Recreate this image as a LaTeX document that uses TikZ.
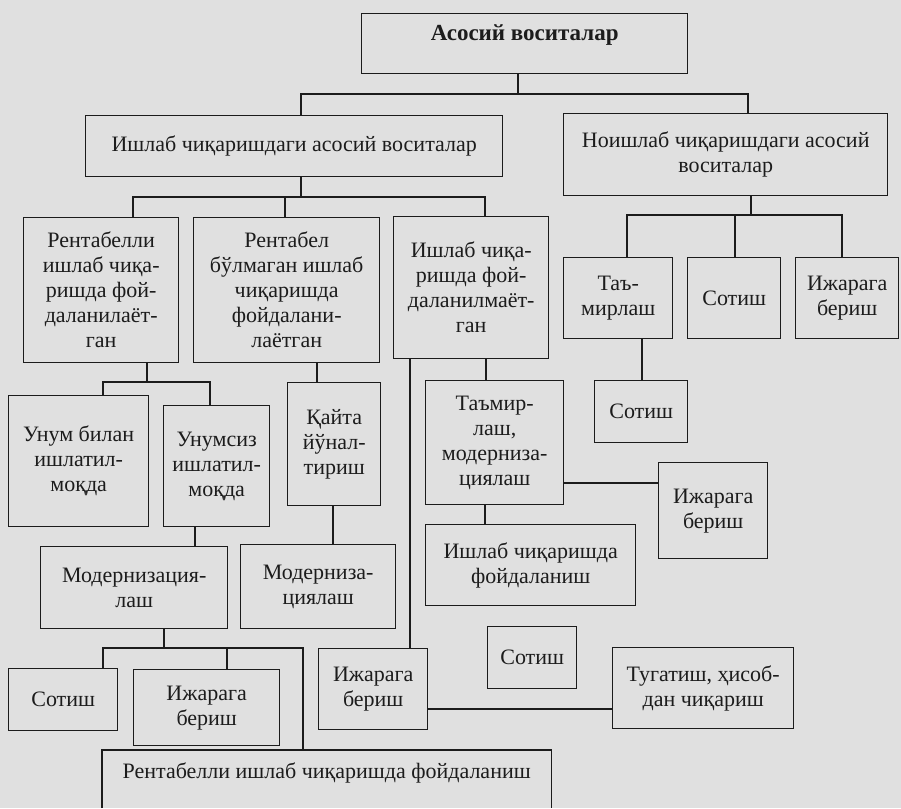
\documentclass[tikz,border=0pt]{standalone}
\usepackage{fontspec}
\setmainfont{Liberation Serif}
\definecolor{paper}{RGB}{224,224,224}
\definecolor{ink}{RGB}{28,28,28}
\newcommand{\mybox}[6]{\node[boxst, minimum width={(#4-#2)*1pt}, minimum height={(#5-#3)*1pt}, anchor=north west] (#1) at (#2,#3) {#6};}
\begin{document}
\begin{tikzpicture}[x=1pt,y=-1pt,
  boxst/.style={draw=ink, line width=1.4pt, text=ink, inner sep=0pt, align=center, font=\fontsize{22}{25}\selectfont},
  ln/.style={draw=ink, line width=1.4pt}]
\fill[paper] (0,0) rectangle (901,808);
\useasboundingbox (0,0) rectangle (901,808);

\node[boxst, minimum width=326pt, minimum height=60pt, anchor=north west, text height=15pt, text depth=21pt, font=\fontsize{23}{26}\selectfont\bfseries] (root) at (361,13) {Асосий воситалар};
\mybox{L1}{85}{115}{502}{176}{Ишлаб чиқаришдаги асосий воситалар}
\mybox{R1}{563}{113}{887}{195}{Ноишлаб чиқаришдаги асосий\\воситалар}
\mybox{A}{23}{217}{178}{362}{Рентабелли\\ишлаб чиқа-\\ришда фой-\\даланилаёт-\\ган}
\mybox{B}{193}{217}{379}{362}{Рентабел\\бўлмаган ишлаб\\чиқаришда\\фойдалани-\\лаётган}
\mybox{C}{393}{216}{548}{358}{Ишлаб чиқа-\\ришда фой-\\даланилмаёт-\\ган}
\mybox{D}{563}{257}{672}{338}{Таъ-\\мирлаш}
\mybox{E}{687}{257}{780}{338}{Сотиш}
\mybox{F}{795}{257}{898}{338}{Ижарага\\бериш}
\mybox{H}{8}{395}{148}{526}{Унум билан\\ишлатил-\\моқда}
\mybox{I}{163}{405}{269}{526}{Унумсиз\\ишлатил-\\моқда}
\mybox{J}{287}{382}{380}{505}{Қайта\\йўнал-\\тириш}
\mybox{P}{425}{380}{563}{504}{Таъмир-\\лаш,\\модерниза-\\циялаш}
\mybox{G}{594}{380}{687}{442}{Сотиш}
\mybox{Q}{658}{462}{767}{558}{Ижарага\\бериш}
\mybox{L}{40}{546}{227}{628}{Модернизация-\\лаш}
\mybox{K}{240}{544}{395}{628}{Модерниза-\\циялаш}
\mybox{R}{425}{524}{635}{605}{Ишлаб чиқаришда\\фойдаланиш}
\mybox{M}{8}{668}{117}{730}{Сотиш}
\mybox{N}{133}{669}{279}{745}{Ижарага\\бериш}
\mybox{S}{318}{648}{427}{729}{Ижарага\\бериш}
\mybox{U}{487}{626}{576}{688}{Сотиш}
\mybox{T}{612}{647}{793}{728}{Тугатиш, ҳисоб-\\дан чиқариш}
\node[boxst, draw=none, minimum width=448pt, minimum height=45pt, anchor=north west] (O) at (102,750) {Рентабелли ишлаб чиқаришда фойдаланиш};
\draw[ln] (O.north west|-0,808) -- (O.north west) -- (O.north east) -- (O.north east|-0,808);

\coordinate (j0) at (518,94);
\draw[ln] (root.south-|j0) -- (j0);
\draw[ln] (L1.north-|301,0) |- (j0) -| (R1.north-|748,0);

\coordinate (j1) at (301,197);
\draw[ln] (L1.south-|j1) -- (j1);
\draw[ln] (A.north-|133,0) |- (j1) -| (C.north-|485,0);
\draw[ln] (B.north-|285,0) |- (j1);

\coordinate (j2) at (751,215);
\draw[ln] (R1.south-|j2) -- (j2);
\draw[ln] (D.north-|627,0) |- (j2) -| (F.north-|842,0);
\draw[ln] (E.north-|735,0) |- (j2);

\coordinate (j3) at (147,382);
\draw[ln] (A.south-|j3) -- (j3);
\draw[ln] (H.north-|103,0) |- (j3) -| (I.north-|210,0);

\draw[ln] (B.south-|317,0) -- (J.north-|317,0);
\draw[ln] (C.south-|486,0) -- (P.north-|486,0);
\draw[ln] (C.south-|410,0) -- (S.north-|410,0);
\draw[ln] (D.south-|642,0) -- (G.north-|642,0);
\draw[ln] (P.east|-0,483) -- (Q.west|-0,483);
\draw[ln] (P.south-|485,0) -- (R.north-|485,0);
\draw[ln] (I.south-|195,0) -- (L.north-|195,0);
\draw[ln] (J.south-|333,0) -- (K.north-|333,0);

\coordinate (j4) at (164,648);
\draw[ln] (L.south-|j4) -- (j4);
\draw[ln] (M.north-|103,0) |- (j4) -| (O.north-|303,0);
\draw[ln] (N.north-|227,0) |- (j4);
\draw[ln] (S.east|-0,709) -- (T.west|-0,709);
\end{tikzpicture}
\end{document}
